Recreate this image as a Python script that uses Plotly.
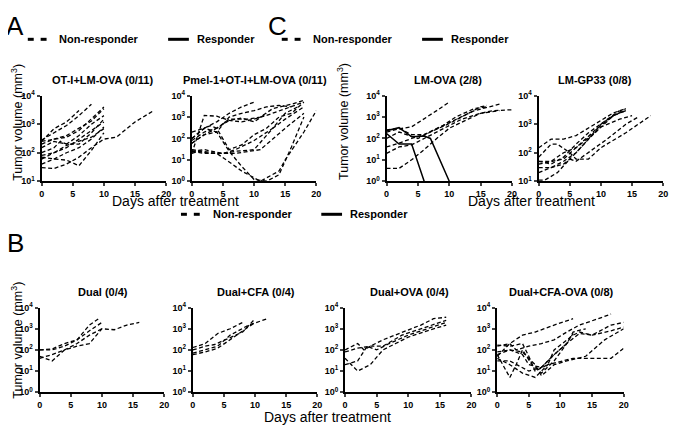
import plotly.graph_objects as go

# ---------------- data ----------------
# Panel A: OT-I+LM-OVA (0/11)
ot1_days = [[0,2,4,6],[0,2,4,6,8],[0,2,4,6,8,10],[0,2,4,6,8,10],[0,2,4,6,8,10],
            [0,2,3,4,6,8,10],[0,2,4,6,8,10],[0,2,4,6,8,10],[0,2,4,6,8,10],
            [0,2,4,6,8,10,12,15,18],[0,2,4,6,8,10]]
ot1_vol = [[250,700,1200,3000],[280,500,900,2000,5000],[200,300,400,700,1300,3500],
           [250,300,350,600,1500,4000],[150,250,200,400,1000,2000],
           [100,150,250,200,200,500,1500],[60,100,150,300,600,1200],
           [80,100,180,250,350,700],[70,60,55,35,120,500],
           [30,28,40,70,150,300,350,1200,3000],[40,60,100,150,300,800]]

# Panel A: Pmel-1+OT-I+LM-OVA (0/11)
pmel_days = [[0,2,4,6,8,10],[0,2,4,6,8,10,12,15,18],[0,2,4,6,8,10,12,14,16],
             [0,2,4,6,9,11,13,16,18],[0,2,3,4,6,8,10,12,14,16,18],
             [0,2,4,6,8,10,12,14,16,18],[0,2,4,6,8,11,14,15,18,20],
             [0,2,5,7,11,13,15,18],[0,2,5,7,10,13,15,17],[0,2,4,6,8,10,12],
             [0,1,3,5,7,10,13,15,18]]
pmel_vol = [[200,300,600,1500,3000,5000],[20,1200,1100,700,600,800,1200,2500,5000],
            [100,300,200,1000,1500,2000,3000,3500,3000],[80,200,300,800,800,1000,2500,4000,6000],
            [100,300,400,300,30,50,150,300,1000,1500,5000],[60,150,200,25,5,1.2,1,2,40,1000],
            [30,25,20,8,3,1,3,10,200,2000],[25,20,20,20,30,100,300,1500],
            [25,30,20,30,80,300,1500,3000],[60,150,300,700,900,600,1500],
            [20,25,20,20,25,30,300,800,3000]]

# Panel C: LM-OVA (2/8)
lmova_resp_days = [[0,2,4,6],[0,2,4,6,7,10]]
lmova_resp_vol = [[170,55,55,1],[230,320,120,130,100,1]]
lmova_non_days = [[0,2,4,6,8,10],[0,2,4,6,9,12,14,18],[0,2,5,7,10,13,15,16],
                  [0,2,4,6,9,11,14,16],[0,2,4,6,9,12,15,17,20],[0,2,4,6,8,10,13,15,18]]
lmova_non_vol = [[200,280,350,800,2000,5000],[250,300,150,150,400,1000,2000,4000],
                 [100,200,100,200,500,1500,3000,3500],[40,60,100,150,400,1000,2500,3000],
                 [20,40,50,100,300,800,1500,2000,2200],[4,4,10,30,100,300,800,1500,2000]]

# Panel C: LM-GP33 (0/8)
gp33_days = [[0,2,4,6,9,12,14],[0,2,3,5,6,8,10,14,18],[0,2,4,6,9,12,14],[0,2,4,6,9,12,14],
             [0,2,4,6,8,10,12,14],[0,2,4,5,6,8,10,13,15],[0,1,3,5,6,8,11,14,16],
             [0,2,4,6,8,10,13]]
gp33_vol = [[150,300,300,400,1000,2500,3500],[70,200,200,100,60,60,150,500,2000],
            [50,50,100,150,500,2000,3000],[40,50,60,150,600,2000,3500],
            [30,30,50,100,300,1000,2000,3000],[20,30,40,60,100,300,800,1500,2000],
            [11,11,20,60,50,100,300,1000,1800],[50,40,70,200,500,1000,3000]]

# Panel B: Dual (0/4)
dual_days = [[0,2,4,6,8,9.5],[0,2,4,6,8,10],[0,2,4,6,8,10,12,14,16],[0,2,4,6,8,10]]
dual_vol = [[100,110,200,300,1500,3000],[100,100,150,300,800,2000],
            [50,30,100,150,200,1000,900,1500,2000],[40,60,100,200,500,1000]]

# Panel B: Dual+CFA (0/4)
cfa_days = [[0,2,4,6,8],[0,2,3.5,6,8,10],[0,2,4,6,9,12],[0,2,4,6,8,10]]
cfa_vol = [[130,200,600,1000,2000],[100,150,180,400,700,3000],
           [70,100,150,500,1500,3000],[60,80,120,300,800,2000]]

# Panel B: Dual+OVA (0/4)
ova_days = [[0,2,3,4,6,9,12,14,16],[0,2,4,6,9,12,15,16],[0,2,3.5,5,7,10,13,16],
            [0,2,4,6,8,10,13,16]]
ova_vol = [[100,200,100,150,300,700,1500,3000,3500],[80,120,150,150,500,1000,2000,2500],
           [20,30,150,100,200,500,1000,2000],[40,10,20,100,200,400,800,1500]]

# Panel B: Dual+CFA-OVA (0/8)
cfaova_days = [[0,2,4,6,9,12],[0,2,3,5,7,9,11,13,16,18],[0,2,4,5,6,8,9,12,13,15,18,20],
               [0,2,4,5,7,9,11,13,15,18,20],[0,2,3,4,5.5,7,9,11,12,14],
               [0,2,4,6,8,12,15,18,20],[0,2,4,6,7,9,11,14,17,20],[0,2,5,7,9,11,12]]
cfaova_vol = [[50,200,500,700,1500,3000],[150,200,100,150,200,300,700,1500,3000,5000],
              [170,150,200,50,10,20,100,500,700,500,800,1200],
              [60,100,60,20,15,60,200,600,500,1500,2000],
              [60,5,20,100,20,8,30,200,700,1000],[40,20,8,5,20,40,40,40,120],
              [80,100,80,20,6,20,30,50,300,1000],[30,30,10,15,60,200,600]]

x_ticks = [0, 5, 10, 15, 20]
y_tick_vals = [1, 10, 100, 1000, 10000]
y_tick_text = ["10<sup>0</sup>", "10<sup>1</sup>", "10<sup>2</sup>", "10<sup>3</sup>", "10<sup>4</sup>"]

# ---------------- figure ----------------
W, H = 677, 431
OFF = 8  # page offset of the plot div
FONT = "Arial, Liberation Sans, sans-serif"


def px(x):
    return (x - OFF) / W


def py(y):
    return 1 - (y - OFF) / H


panels = [
    ("OT-I+LM-OVA (0/11)", ot1_days, ot1_vol, [], [], (39, 165), (91, 179), 1, 101),
    ("Pmel-1+OT-I+LM-OVA (0/11)", pmel_days, pmel_vol, [], [], (191, 317), (91, 179), 0, 255),
    ("LM-OVA (2/8)", lmova_non_days, lmova_non_vol, lmova_resp_days, lmova_resp_vol, (388, 515), (91, 179), 0, 450),
    ("LM-GP33 (0/8)", gp33_days, gp33_vol, [], [], (542, 668), (91, 179), 1, 599),
    ("Dual (0/4)", dual_days, dual_vol, [], [], (37, 163), (309, 396), 0, 101),
    ("Dual+CFA (0/4)", cfa_days, cfa_vol, [], [], (192, 318), (309, 396), 0, 256),
    ("Dual+OVA (0/4)", ova_days, ova_vol, [], [], (346, 474), (309, 396), 0, 411),
    ("Dual+CFA-OVA (0/8)", cfaova_days, cfaova_vol, [], [], (500, 628), (309, 396), 0, 565),
]

fig = go.Figure()
layout = {}
annotations = []


def add_text(text, x, y, size, xanchor="center", angle=0):
    annotations.append(dict(text=text, x=px(x), y=py(y), xref="paper", yref="paper",
                            xanchor=xanchor, yanchor="middle", textangle=angle,
                            showarrow=False, font=dict(family=FONT, size=size, color="black")))


for i, (title, nd, nv, rd, rv, xd, yd, ymin, tx) in enumerate(panels):
    k = "" if i == 0 else str(i + 1)
    xa, ya = "x" + k, "y" + k
    for d, v in zip(nd, nv):
        fig.add_trace(go.Scatter(x=d, y=v, mode="lines", xaxis=xa, yaxis=ya,
                                 line=dict(color="black", width=1.3, dash="4px,2.5px"),
                                 showlegend=False, hoverinfo="skip"))
    for d, v in zip(rd, rv):
        fig.add_trace(go.Scatter(x=d, y=v, mode="lines", xaxis=xa, yaxis=ya,
                                 line=dict(color="black", width=1.5),
                                 showlegend=False, hoverinfo="skip"))
    layout["xaxis" + k] = dict(
        domain=[px(xd[0]), px(xd[1])], anchor=ya, range=[0, 20],
        tickvals=x_ticks, ticks="outside", ticklen=3, tickwidth=1.5,
        showline=True, linecolor="black", linewidth=2, showgrid=False, zeroline=False,
        tickfont=dict(family=FONT, size=9, color="black", weight="bold"),
    )
    layout["yaxis" + k] = dict(
        domain=[py(yd[1]), py(yd[0])], anchor=xa, type="log", range=[ymin, 4],
        tickvals=y_tick_vals[ymin:], ticktext=y_tick_text[ymin:],
        ticks="outside", ticklen=3, tickwidth=1.5,
        showline=True, linecolor="black", linewidth=2, showgrid=False, zeroline=False,
        tickfont=dict(family=FONT, size=9, color="black", weight="bold"),
    )
    add_text("<b>" + title + "</b>", tx, yd[0] - 16, 11)

# axis labels
for (x, y) in [(14, 118), (344, 118), (14, 342)]:
    add_text("Tumor volume (mm<sup>3</sup>)", x, y, 12.5, angle=-90)
for (x, y) in [(174, 199), (535, 199), (328, 422)]:
    add_text("Days after treatment", x, y, 14)

# panel letters
for (t, x, y) in [("A", 12, 19), ("C", 278, 19), ("B", 13, 243)]:
    add_text(t, x, y, 26)

# header legends
shapes = []
for (x0, y0) in [(25, 33), (282, 33), (180, 213)]:
    for dx in (0, 13):
        shapes.append(dict(type="line", xref="paper", yref="paper",
                           x0=px(x0 + dx), x1=px(x0 + dx + 6), y0=py(y0), y1=py(y0),
                           line=dict(color="black", width=3)))
    add_text("<b>Non-responder</b>", x0 + 30, y0, 11, xanchor="left")
    sx = x0 + 142
    shapes.append(dict(type="line", xref="paper", yref="paper", x0=px(sx), x1=px(sx + 21), y0=py(y0), y1=py(y0),
                       line=dict(color="black", width=3)))
    add_text("<b>Responder</b>", sx + 27, y0, 11, xanchor="left")

fig.update_layout(**layout)
fig.update_layout(width=W, height=H, margin=dict(l=0, r=0, t=0, b=0),
                  plot_bgcolor="white", paper_bgcolor="white",
                  annotations=annotations, shapes=shapes, showlegend=False)
fig.write_html("out.html")
